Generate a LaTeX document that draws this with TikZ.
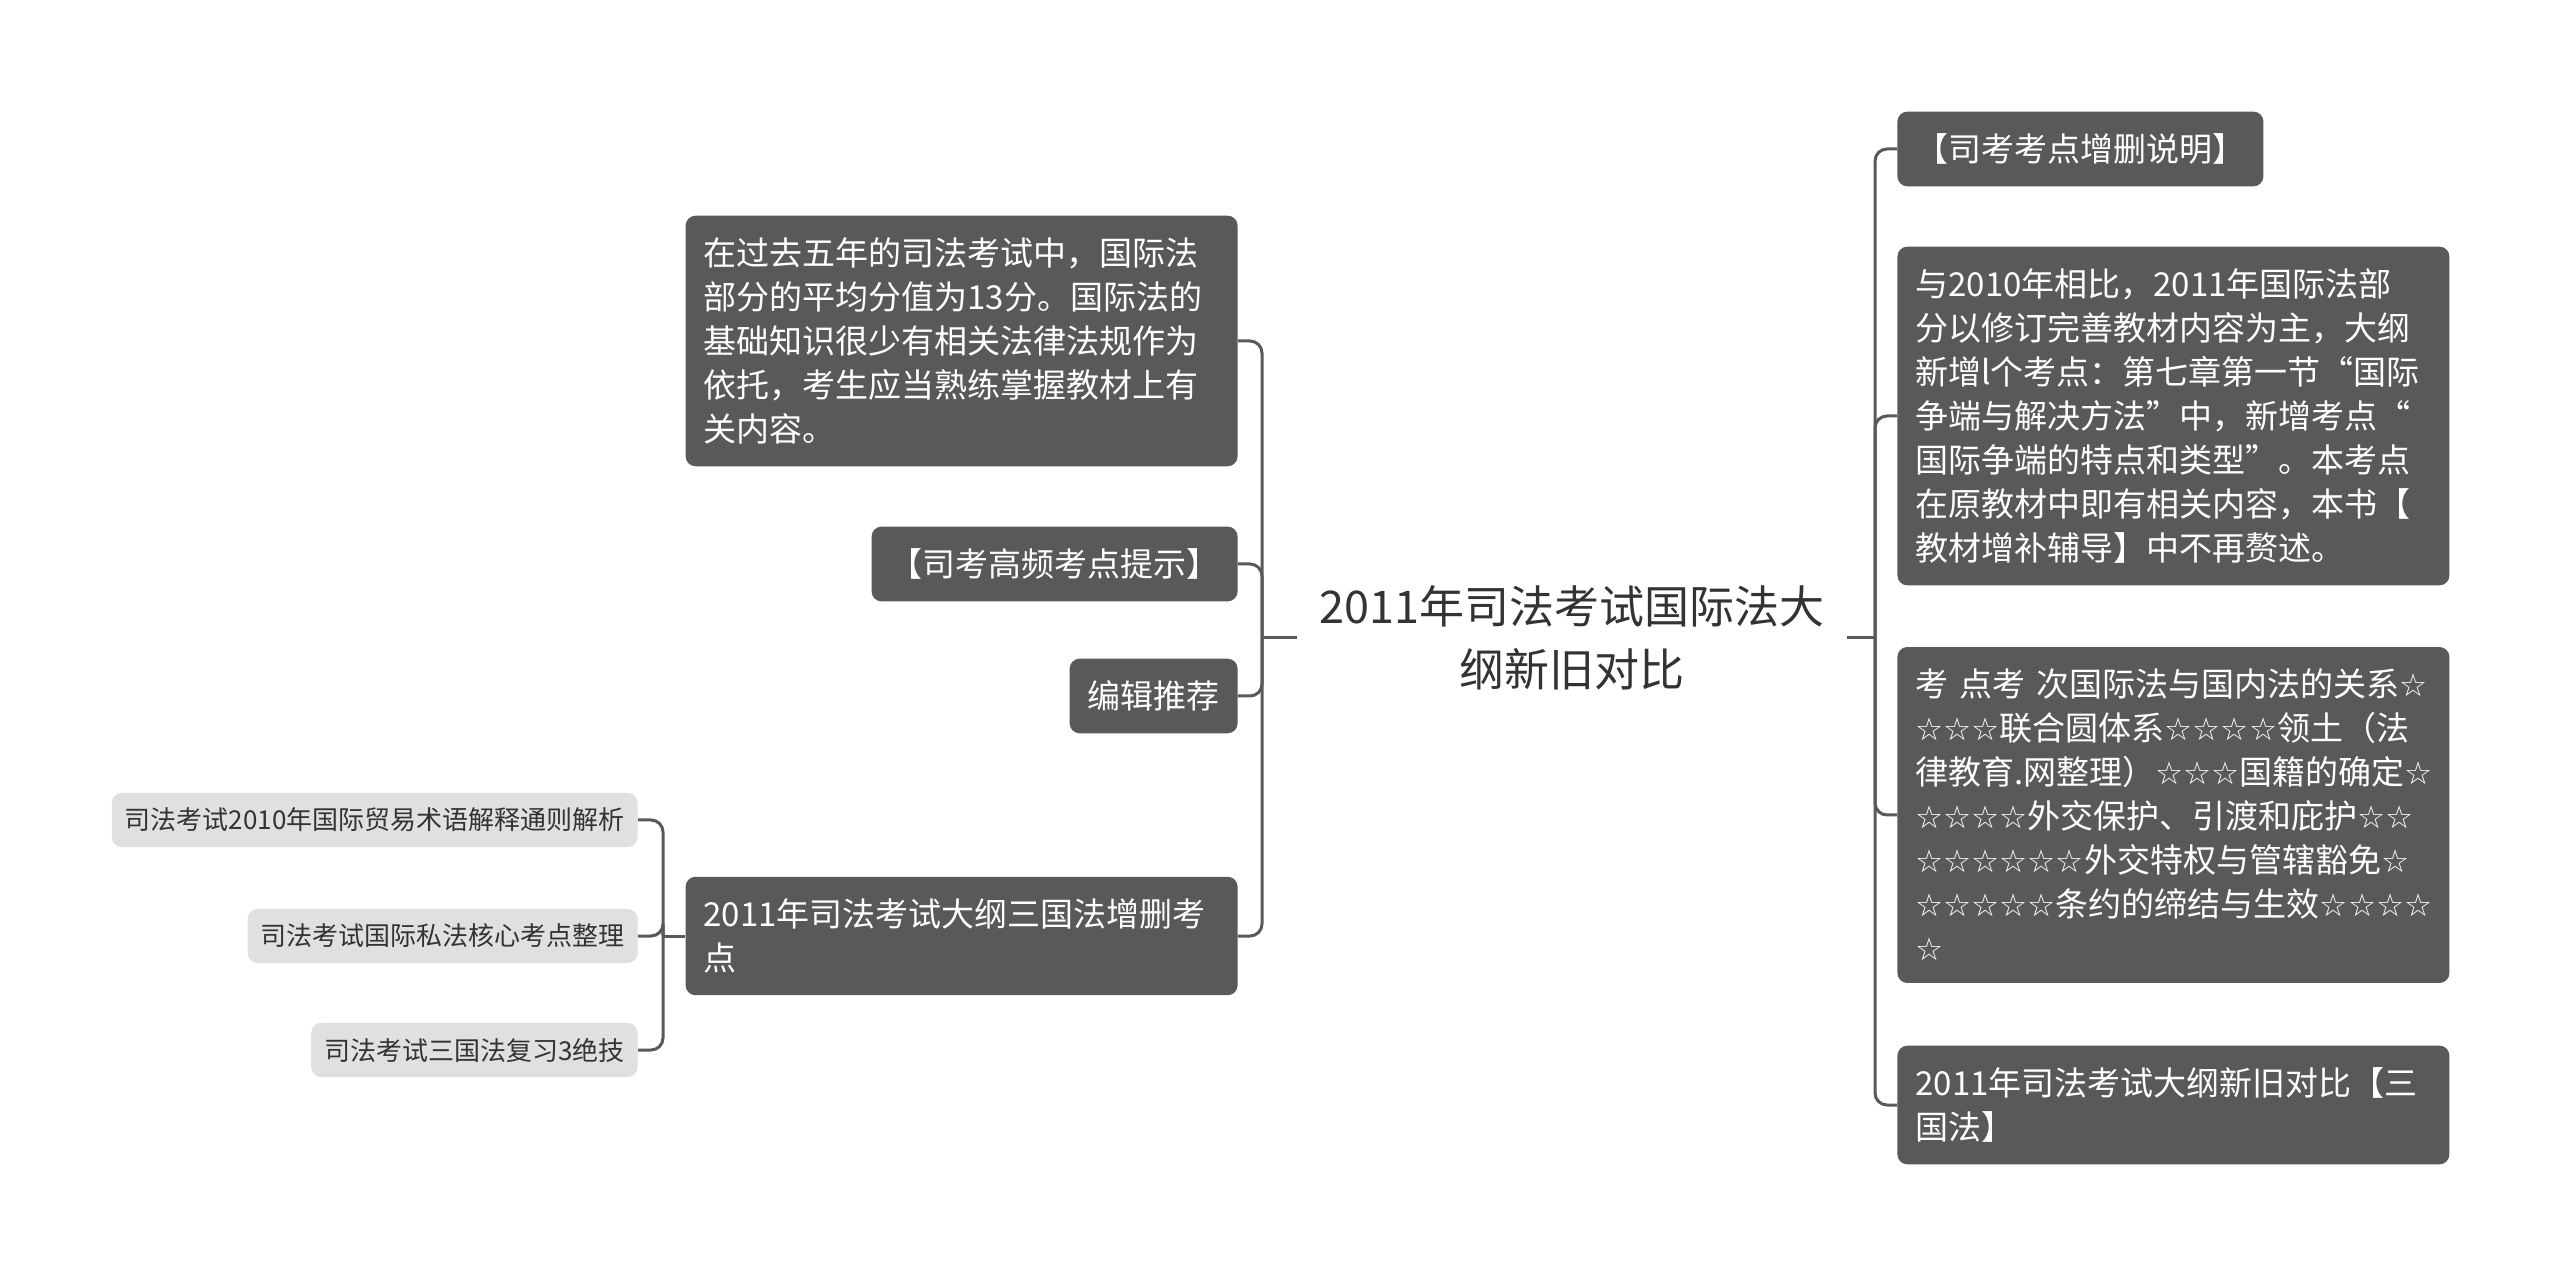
\documentclass[tikz,border=0pt]{standalone}
\usepackage{fontspec}
\setmainfont{Noto Sans CJK SC}
\newfontfamily\starfont[Scale=0.95]{DejaVu Sans}
\newcommand{\stars}[1]{{\starfont #1}}
\definecolor{boxgray}{HTML}{595959}
\definecolor{leafgray}{HTML}{E0E0E0}
\definecolor{inkgray}{HTML}{333333}

\begin{document}
\begin{tikzpicture}[x=0.5pt, y=-0.5pt,
	root/.style={text=inkgray, font=\fontsize{22.5}{31.5}\selectfont, align=center, minimum width=275pt, inner xsep=0pt},
	topic/.style={fill=boxgray, text=white, rounded corners=5pt, inner xsep=9pt, inner ysep=11pt, font=\fontsize{16.5}{22}\selectfont, align=left},
	wide/.style={topic, text width=258pt},
	leaf/.style={fill=leafgray, text=inkgray, rounded corners=5pt, inner xsep=6.5pt, inner ysep=7.5pt, font=\fontsize{13}{17}\selectfont},
	link/.style={draw=boxgray, line width=1.5pt, rounded corners=6pt}]

	\useasboundingbox[fill=white] (0,0) rectangle (2560,1277);

	% centre
	\node[root] (root) at (1572,638) {2011年司法考试国际法大\\纲新旧对比};

	% left side
	\node[wide, anchor=east] (past) at (1238,341) {在过去五年的司法考试中，国际法\\部分的平均分值为13分。国际法的\\基础知识很少有相关法律法规作为\\依托，考生应当熟练掌握教材上有\\关内容。};
	\node[topic, anchor=east] (tips) at (1238,564) {【司考高频考点提示】};
	\node[topic, anchor=east] (edit) at (1238,696) {编辑推荐};
	\node[wide, anchor=east] (three) at (1238,936) {2011年司法考试大纲三国法增删考\\点};

	\node[leaf, anchor=east] (incoterms) at (638,820) {司法考试2010年国际贸易术语解释通则解析};
	\node[leaf, anchor=east] (private) at (638,936) {司法考试国际私法核心考点整理};
	\node[leaf, anchor=east] (review) at (638,1050) {司法考试三国法复习3绝技};

	% right side
	\node[topic, anchor=west] (note) at (1897,149) {【司考考点增删说明】};
	\node[wide, anchor=west] (compare) at (1897,416) {与2010年相比，2011年国际法部\\分以修订完善教材内容为主，大纲\\新增l个考点：第七章第一节“国际\\争端与解决方法”中，新增考点“\\国际争端的特点和类型”。本考点\\在原教材中即有相关内容，本书【\\教材增补辅导】中不再赘述。};
	\node[wide, anchor=west] (points) at (1897,815) {考 点考 次国际法与国内法的关系\stars{☆}\\\stars{☆☆☆}联合圆体系\stars{☆☆☆☆}领土（法\\律教育.网整理）\stars{☆☆☆}国籍的确定\stars{☆}\\\stars{☆☆☆☆}外交保护、引渡和庇护\stars{☆☆}\\\stars{☆☆☆☆☆☆}外交特权与管辖豁免\stars{☆}\\\stars{☆☆☆☆☆}条约的缔结与生效\stars{☆☆☆☆}\\\stars{☆}};
	\node[wide, anchor=west] (outline) at (1897,1105) {2011年司法考试大纲新旧对比【三\\国法】};

	% connectors
	\coordinate (lfork) at (1262,638);
	\coordinate (rfork) at (1875,638);
	\coordinate (sfork) at (663,936);

	\draw[link] (root.west) -- (lfork);
	\foreach \n in {past,tips,edit,three}
		\draw[link] (lfork) |- (\n.east);
	\draw[link] (root.east) -- (rfork);
	\foreach \n in {note,compare,points,outline}
		\draw[link] (rfork) |- (\n.west);
	\draw[link] (three.west) -- (sfork);
	\foreach \n in {incoterms,private,review}
		\draw[link] (sfork) |- (\n.east);

\end{tikzpicture}
\end{document}
